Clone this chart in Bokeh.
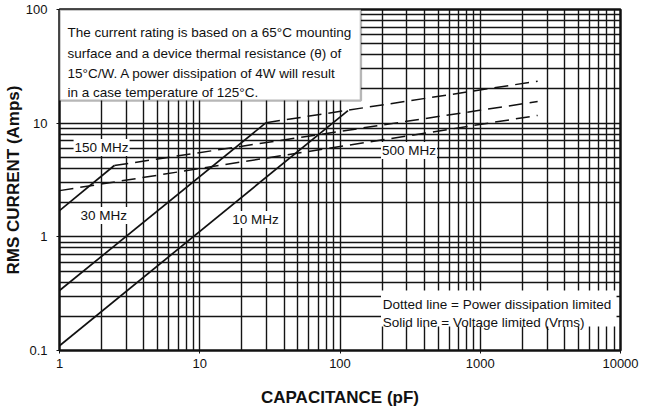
from bokeh.plotting import figure
from bokeh.models import FixedTicker, BoxAnnotation, Label, Range1d
from bokeh.embed import file_html
from bokeh.resources import INLINE

# ---- data ----
# Solid lines: voltage limited
solid_10_c = [1, 114]
solid_10_i = [0.11, 12.9]
solid_30_c = [1, 29.7]
solid_30_i = [0.337, 10.1]
solid_150_c = [1, 2.46]
solid_150_i = [1.70, 4.24]
# Dashed lines: power dissipation limited
dash_30_c = [29.7, 2566]
dash_30_i = [10.1, 23.4]
dash_150_c = [2.46, 2566]
dash_150_i = [4.24, 15.5]
dash_500_c = [1, 2566]
dash_500_i = [2.55, 11.7]

x_major = [1, 10, 100, 1000, 10000]
x_labels = ["1", "10", "100", "1000", "10000"]
y_major = [0.1, 1, 10, 100]
y_labels = ["0.1", "1", "10", "100"]

note_lines = [
    "The current rating is based on a 65\u00b0C mounting",
    "surface and a device thermal resistance (\u03b8) of",
    "15\u00b0C/W. A power dissipation of 4W will result",
    "in a case temperature of 125\u00b0C.",
]
legend_lines = [
    "Dotted line =  Power dissipation limited",
    "Solid line = Voltage limited (Vrms)",
]

FONT = "Liberation Sans, Arial, Helvetica, sans-serif"

p = figure(width=660, height=413, x_axis_type="log", y_axis_type="log",
           x_range=Range1d(1, 10000), y_range=Range1d(0.1, 100),
           output_backend="svg", toolbar_location=None,
           min_border_left=58, min_border_right=40, min_border_top=9, min_border_bottom=63)

p.background_fill_color = "white"
p.outline_line_color = "#111111"
p.outline_line_width = 2.5

xg = [m * 10 ** k for k in range(0, 4) for m in range(1, 10)] + [10000]
yg = [m * 10 ** k for k in range(-1, 2) for m in range(1, 10)] + [100]
p.xgrid.ticker = FixedTicker(ticks=xg)
p.ygrid.ticker = FixedTicker(ticks=yg)
for g in (p.xgrid, p.ygrid):
    g.grid_line_color = "#141414"
    g.grid_line_width = 1.4
    g.grid_line_alpha = 1.0

p.xaxis.ticker = FixedTicker(ticks=x_major)
p.yaxis.ticker = FixedTicker(ticks=y_major)
p.xaxis.major_label_overrides = {v: s for v, s in zip(x_major, x_labels)}
p.yaxis.major_label_overrides = {v: s for v, s in zip(y_major, y_labels)}
for ax in (p.xaxis, p.yaxis):
    ax.axis_line_color = None
    ax.major_tick_in = 0
    ax.major_tick_out = 3
    ax.major_tick_line_color = "#111111"
    ax.minor_tick_line_color = None
    ax.major_label_text_font = FONT
    ax.major_label_text_font_size = "13px"
    ax.major_label_text_color = "#111111"
    ax.axis_label_text_font = FONT
    ax.axis_label_text_font_style = "bold"
    ax.axis_label_text_font_size = "17px"
    ax.axis_label_text_color = "#111111"

p.xaxis.axis_label = "CAPACITANCE (pF)"
p.yaxis.axis_label = "RMS CURRENT (Amps)"
p.xaxis.major_label_standoff = 5
p.xaxis.axis_label_standoff = 17
p.yaxis.major_label_standoff = 9
p.yaxis.axis_label_standoff = 0

LC = "#111111"
for c, i in ((solid_10_c, solid_10_i), (solid_30_c, solid_30_i), (solid_150_c, solid_150_i)):
    p.line(c, i, line_color=LC, line_width=1.7)
for c, i in ((dash_30_c, dash_30_i), (dash_150_c, dash_150_i), (dash_500_c, dash_500_i)):
    p.line(c, i, line_color=LC, line_width=1.5, line_dash="14 7")

# curve labels
for txt, x, y in (("150 MHz", 1.26, 6.1), ("30 MHz", 1.39, 1.54),
                  ("10 MHz", 16.8, 1.42), ("500 MHz", 196, 5.74)):
    p.add_layout(Label(x=x, y=y, text=txt, text_baseline="middle", text_align="left",
                       text_font=FONT, text_font_size="13.5px", text_color=LC,
                       background_fill_color="white", background_fill_alpha=1.0,
                       padding=1))

# note box
p.add_layout(BoxAnnotation(left=1, right=141, top=100, bottom=15.8,
                           fill_color="white", fill_alpha=1.0,
                           line_color=LC, line_width=2.4, level="annotation"))
for txt, y in zip(note_lines, [62.7, 40.9, 27.3, 18.6]):
    p.add_layout(Label(x=1.14, y=y, text=txt, text_baseline="alphabetic",
                       text_font=FONT, text_font_size="13.5px", text_color=LC))

# legend box
p.add_layout(BoxAnnotation(left=196, right=9370, top=0.337, bottom=0.1625,
                           fill_color="white", fill_alpha=1.0, line_color=None,
                           level="annotation"))
for txt, y in zip(legend_lines, [0.254, 0.176]):
    p.add_layout(Label(x=202, y=y, text=txt, text_baseline="alphabetic",
                       text_font=FONT, text_font_size="13.5px", text_color=LC))

open("out.html", "w").write(file_html(p, INLINE))
